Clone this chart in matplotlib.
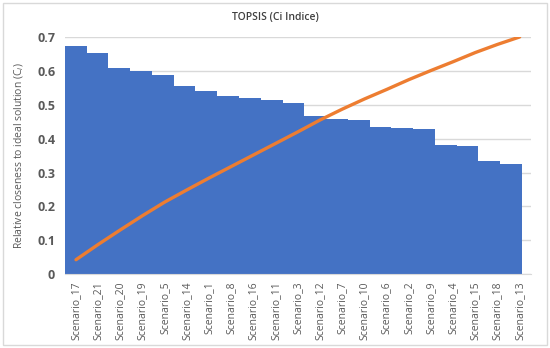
import matplotlib
matplotlib.use("Agg")
import matplotlib.pyplot as plt
from matplotlib.patches import Rectangle
import numpy as np

plt.rcParams["font.family"] = ["Open Sans", "DejaVu Sans"]

# scenarios ordered by Ci (descending)
scenarios = ["Scenario_17", "Scenario_21", "Scenario_20", "Scenario_19", "Scenario_5",
             "Scenario_14", "Scenario_1", "Scenario_8", "Scenario_16", "Scenario_11",
             "Scenario_3", "Scenario_12", "Scenario_7", "Scenario_10", "Scenario_6",
             "Scenario_2", "Scenario_9", "Scenario_4", "Scenario_15", "Scenario_18",
             "Scenario_13"]
ci_values = [0.674, 0.652, 0.609, 0.600, 0.587, 0.554, 0.540, 0.527, 0.519, 0.514,
             0.506, 0.467, 0.459, 0.454, 0.435, 0.432, 0.429, 0.380, 0.379, 0.333,
             0.324]
# cumulative curve (orange line)
curve_values = [0.043, 0.088, 0.131, 0.173, 0.213, 0.249, 0.284, 0.318, 0.352, 0.386,
                0.420, 0.455, 0.487, 0.517, 0.545, 0.574, 0.601, 0.627, 0.654, 0.678,
                0.700]

grey = "#595959"

fig = plt.figure(figsize=(5.5, 3.48), dpi=100)
fig.patches.append(Rectangle((0.006, 0.01), 0.988, 0.98, transform=fig.transFigure,
                             fill=False, edgecolor="#d9d9d9", linewidth=1))
ax = fig.add_axes([0.118, 0.2118, 0.847, 0.682])

x = np.arange(len(scenarios))
w = 0.981
ax.bar(-0.5 + x * w, ci_values, width=w, align="edge", color="#4472C4",
       edgecolor="none", zorder=2)
ax.plot(x, curve_values, color="#ED7D31", linewidth=2.4, solid_capstyle="round", zorder=3)

ax.set_xlim(-0.5, len(scenarios) - 0.5)
ax.set_ylim(0, 0.7)
ax.set_yticks(np.arange(0, 0.71, 0.1))
ax.set_yticklabels(["0", "0.1", "0.2", "0.3", "0.4", "0.5", "0.6", "0.7"],
                   fontsize=9, fontweight="bold", color=grey)
ax.set_xticks(x)
ax.set_xticklabels(scenarios, rotation=90, fontsize=7.5, color=grey)
ax.tick_params(axis="both", length=0, pad=5)
ax.tick_params(axis="y", pad=7)
ax.grid(axis="y", color="#d9d9d9", linewidth=1, zorder=0)
for s in ["top", "right", "left"]:
    ax.spines[s].set_visible(False)
ax.spines["bottom"].set_color("#d9d9d9")

ax.set_ylabel("Relative closeness to ideal solution (C$_i$)", fontsize=7.5, color=grey,
              labelpad=8)
fig.text(0.5, 0.951, "TOPSIS (Ci Indice)", ha="center", va="center", fontsize=7.5,
         color="#404040", fontweight="semibold")

fig.savefig("out.png", dpi=100)
